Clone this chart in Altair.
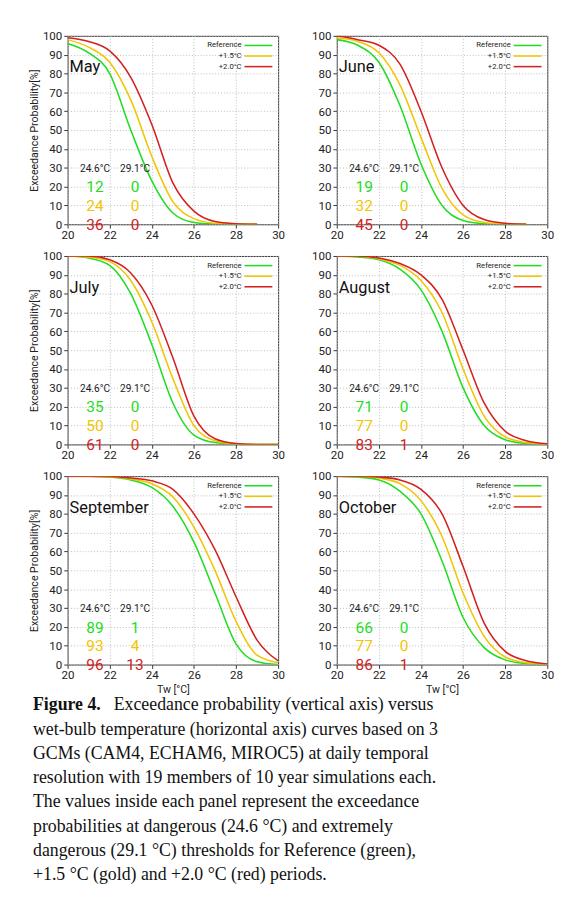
import altair as alt
import pandas as pd

TW = [20, 21, 22, 23, 24, 25, 26, 27, 28, 29, 30]
SERIES = ["Reference", "+1.5°C", "+2.0°C"]
COLORS = ["#22dd22", "#f2c500", "#d42020"]

MAY_REF = [96, 91, 80, 50, 23, 6, 1, 0.2, 0, 0, None]
MAY_15 = [98, 94, 86, 66, 36, 12, 3, 0.5, 0, 0, None]
MAY_20 = [99, 97, 92, 78, 53, 22, 7, 1.5, 0.3, 0, None]
JUN_REF = [98, 95, 86, 63, 32, 10, 2, 0.3, 0, 0, None]
JUN_15 = [99, 97, 91, 74, 46, 19, 5, 1, 0.2, 0, None]
JUN_20 = [100, 98, 95, 85, 60, 30, 10, 2.5, 0.5, 0, None]
JUL_REF = [100, 99, 95, 80, 53, 22, 5, 1, 0.2, 0, 0]
JUL_15 = [100, 99.5, 97, 87, 65, 35, 10, 2, 0.3, 0, 0]
JUL_20 = [100, 100, 98, 91, 74, 46, 15, 3, 0.5, 0, 0]
AUG_REF = [100, 99.5, 98, 93, 82, 60, 30, 10, 2.5, 0.5, 0]
AUG_15 = [100, 100, 98.5, 95, 87, 70, 40, 15, 4, 1, 0.1]
AUG_20 = [100, 100, 99, 96, 90, 77, 50, 22, 7, 2, 0.3]
SEP_REF = [100, 100, 99.5, 98, 94, 84, 65, 38, 11, 1.5, 0]
SEP_15 = [100, 100, 99.7, 98.5, 96, 89, 73, 50, 23, 5, 1]
SEP_20 = [100, 100, 99.8, 99, 97.5, 93, 80, 61, 36, 13, 2]
OCT_REF = [100, 99.5, 98, 92, 80, 55, 25, 9, 2.5, 0.5, 0]
OCT_15 = [100, 100, 99, 96, 87, 68, 38, 15, 4, 1, 0.2]
OCT_20 = [100, 100, 99.5, 98, 93, 80, 52, 22, 7, 2, 0.3]

MONTHS = ["May", "June", "July", "August", "September", "October"]
CURVES = [
    [MAY_REF, MAY_15, MAY_20], [JUN_REF, JUN_15, JUN_20], [JUL_REF, JUL_15, JUL_20],
    [AUG_REF, AUG_15, AUG_20], [SEP_REF, SEP_15, SEP_20], [OCT_REF, OCT_15, OCT_20],
]
AT_246 = [[12, 24, 36], [19, 32, 45], [35, 50, 61], [71, 77, 83], [89, 93, 96], [66, 77, 86]]
AT_291 = [[0, 0, 0], [0, 0, 0], [0, 0, 0], [0, 0, 1], [1, 4, 13], [0, 0, 1]]

CAPTION = [
    "Exceedance probability (vertical axis) versus",
    "wet-bulb temperature (horizontal axis) curves based on 3",
    "GCMs (CAM4, ECHAM6, MIROC5) at daily temporal",
    "resolution with 19 members of 10 year simulations each.",
    "The values inside each panel represent the exceedance",
    "probabilities at dangerous (24.6 °C) and extremely",
    "dangerous (29.1 °C) thresholds for Reference (green),",
    "+1.5 °C (gold) and +2.0 °C (red) periods.",
]

W, H = 219, 196
color = alt.Scale(domain=SERIES, range=COLORS)
FONT = "Roboto"


def panel(i):
    rows = []
    for s, vals in zip(SERIES, CURVES[i]):
        for t, v in zip(TW, vals):
            if v is not None:
                rows.append({"tw": t, "p": v, "series": s})
    df = pd.DataFrame(rows)
    left = i % 2 == 0
    bottom = i >= 4
    x = alt.X("tw:Q", scale=alt.Scale(domain=[20, 30], nice=False),
              axis=alt.Axis(values=[20, 22, 24, 26, 28, 30], title="Tw [°C]" if bottom else None))
    y = alt.Y("p:Q", scale=alt.Scale(domain=[0, 100], nice=False),
              axis=alt.Axis(values=list(range(0, 101, 10)),
                            title="Exceedance Probability[%]" if left else None))
    c = alt.Color("series:N", scale=color, legend=None)
    lines = alt.Chart(df).mark_line(strokeWidth=1.6, interpolate="monotone", clip=True).encode(
        x=x, y=y, color=c)

    nums = []
    for k, s in enumerate(SERIES):
        nums.append({"tw": 21.3, "p": 19.5 - 10 * k, "t": str(AT_246[i][k]), "series": s})
        nums.append({"tw": 23.2, "p": 19.5 - 10 * k, "t": str(AT_291[i][k]), "series": s})
    numtext = alt.Chart(pd.DataFrame(nums)).mark_text(fontSize=16, font=FONT, baseline="middle").encode(
        x=x, y=y, text="t:N", color=c)
    hdr = alt.Chart(pd.DataFrame({"tw": [21.3, 23.2], "p": [29.5, 29.5], "t": ["24.6°C", "29.1°C"]})).mark_text(
        fontSize=10.5, font=FONT, color="#222", baseline="middle").encode(x=x, y=y, text="t:N")

    title = alt.Chart(pd.DataFrame({"t": [MONTHS[i]]})).mark_text(
        fontSize=17, font=FONT, align="left", baseline="middle", color="#111").encode(
        x=alt.value(2), y=alt.value(33), text="t:N")

    legend = []
    for k, s in enumerate(SERIES):
        one = alt.Chart(pd.DataFrame({"series": [s]}))
        legend.append(one.mark_text(fontSize=8, font=FONT, align="right", baseline="middle", color="#222").encode(
            x=alt.value(181), y=alt.value(10 + 11 * k), text="series:N"))
        legend.append(one.mark_rule(strokeWidth=1.6, color=COLORS[k]).encode(
            x=alt.value(184), x2=alt.value(213), y=alt.value(10 + 11 * k)))

    return alt.layer(lines, numtext, hdr, title, *legend).properties(width=W, height=H)


rows = [alt.hconcat(panel(2 * r), panel(2 * r + 1), spacing=26) for r in range(3)]
grid = alt.vconcat(*rows, spacing=8)

CAP_X = -36
cap = pd.DataFrame({"t": CAPTION, "n": list(range(len(CAPTION)))})
cap["dx"] = [CAP_X + 84] + [CAP_X] * (len(CAPTION) - 1)
yscale = alt.Scale(domain=[-0.5, 7.5], range=[-10, 192])
captext = alt.Chart(cap).mark_text(font="Liberation Serif", fontSize=18.5, align="left", baseline="middle",
                                   color="#111").encode(
    x=alt.X("dx:Q", scale=None), y=alt.Y("n:Q", scale=yscale, axis=None), text="t:N")
bold = alt.Chart(pd.DataFrame({"t": ["Figure 4."], "n": [0]})).mark_text(
    font="Liberation Serif", fontSize=18.5, fontWeight="bold", align="left", baseline="middle", color="#111").encode(
    x=alt.value(CAP_X), y=alt.Y("n:Q", scale=yscale, axis=None), text="t:N")
caption = alt.layer(captext, bold).properties(width=480, height=190, view=alt.ViewConfig(stroke=None))

chart = alt.vconcat(grid, caption, spacing=0).properties(
    padding={"left": 21, "top": 4, "right": 0, "bottom": 0}
).configure_view(stroke="#333", strokeWidth=1).configure_axis(
    labelFont=FONT, titleFont=FONT, labelFontSize=12, titleFontSize=11, titleFontWeight="normal",
    labelColor="#222", titleColor="#222", gridColor="#bbb", gridDash=[1, 2], domain=False,
    tickColor="#333", tickSize=4, labelPadding=2, titlePadding=3, labelFlush=False, labelOverlap=False,
).configure_axisY(labelAlign="right")

chart.save("out.html", embed_options={"renderer": "svg", "actions": False})
